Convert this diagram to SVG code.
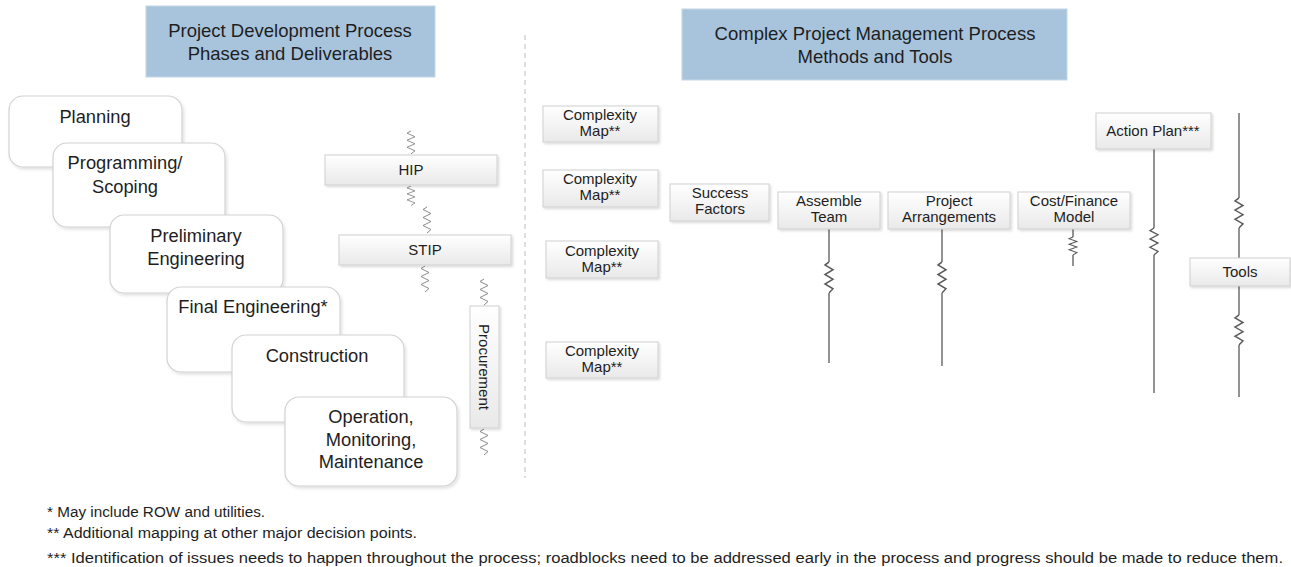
<svg xmlns="http://www.w3.org/2000/svg" xmlns:xlink="http://www.w3.org/1999/xlink" width="1291" height="567" viewBox="0 0 1291 567">
<style>
text{font-family:"Liberation Sans",Arial,sans-serif;fill:#1e1e1e;text-anchor:middle}
.hdr{fill:#a8c4dd;stroke:#c4d6e6;stroke-width:1}
.ht{font-size:18.5px}
.phase{fill:#fff;stroke:#d2d2d2;stroke-width:1.2;filter:url(#sh)}
.pt{font-size:18.3px}
.node{fill:url(#g);stroke:#d0d0d0;stroke-width:1;filter:url(#sh2)}
.nt{font-size:15px}
.spr{fill:none;stroke:#8a8a8a;stroke-width:1}
.ln{fill:none;stroke:#5a5a5a;stroke-width:1.3}
.fn{font-size:15.5px;text-anchor:start}
</style>
<defs>
<linearGradient id="g" x1="0" y1="0" x2="0" y2="1">
<stop offset="0" stop-color="#ffffff"/>
<stop offset="1" stop-color="#e9e9e9"/>
</linearGradient>
<filter id="sh" x="-10%" y="-10%" width="125%" height="125%">
<feDropShadow dx="1.5" dy="2" stdDeviation="1.5" flood-color="#000" flood-opacity="0.12"/>
</filter>
<filter id="sh2" x="-10%" y="-10%" width="125%" height="130%">
<feDropShadow dx="1.5" dy="1.5" stdDeviation="1" flood-color="#000" flood-opacity="0.15"/>
</filter>
<path id="spring" d="M0,0 L-4,2.5 L4,6.5 L-4,10.5 L4,14.5 L-4,18.5 L4,22.5 L0,26"/>
</defs>

<g id="header-left">
<rect class="hdr" x="146" y="6" width="289" height="71"/>
<text class="ht" x="290" y="37">Project Development Process</text>
<text class="ht" x="290" y="60">Phases and Deliverables</text>
</g>
<g id="header-right">
<rect class="hdr" x="682" y="9" width="385" height="71"/>
<text class="ht" x="875" y="40">Complex Project Management Process</text>
<text class="ht" x="875" y="63">Methods and Tools</text>
</g>

<line x1="525" y1="35" x2="525" y2="478" stroke="#bdbdbd" stroke-width="1" stroke-dasharray="5,4"/>

<g id="phase-planning">
<rect class="phase" x="9" y="96" width="173" height="71" rx="14"/>
<text class="pt" x="95" y="123">Planning</text>
</g>
<g id="phase-programming">
<rect class="phase" x="53" y="143" width="172" height="84" rx="14"/>
<text class="pt" x="125" y="169">Programming/</text>
<text class="pt" x="125" y="193">Scoping</text>
</g>
<g id="phase-preliminary">
<rect class="phase" x="110" y="215" width="173" height="78" rx="14"/>
<text class="pt" x="196" y="242">Preliminary</text>
<text class="pt" x="196" y="265">Engineering</text>
</g>
<g id="phase-final">
<rect class="phase" x="167" y="287" width="173" height="85" rx="14"/>
<text class="pt" x="253" y="313">Final Engineering*</text>
</g>
<g id="phase-construction">
<rect class="phase" x="232" y="335" width="172" height="87" rx="14"/>
<text class="pt" x="317" y="362">Construction</text>
</g>
<g id="phase-operation">
<rect class="phase" x="285" y="397" width="172" height="89" rx="14"/>
<text class="pt" x="371" y="423">Operation,</text>
<text class="pt" x="371" y="446">Monitoring,</text>
<text class="pt" x="371" y="468">Maintenance</text>
</g>

<g id="connectors">
<use xlink:href="#spring" class="spr" transform="translate(411,131) scale(1,0.88)"/>
<use xlink:href="#spring" class="spr" transform="translate(411,186) scale(1,0.75)"/>
<use xlink:href="#spring" class="spr" transform="translate(427,207) scale(1,1)"/>
<use xlink:href="#spring" class="spr" transform="translate(425,266) scale(1,1)"/>
<use xlink:href="#spring" class="spr" transform="translate(484,279) scale(1,1)"/>
<use xlink:href="#spring" class="spr" transform="translate(484,429) scale(1,1)"/>

<path class="ln" d="M829,229 V262 M829,293 V363"/>
<use xlink:href="#spring" class="ln" transform="translate(829,262) scale(1,1.19)"/>
<path class="ln" d="M942,229 V262 M942,293 V366"/>
<use xlink:href="#spring" class="ln" transform="translate(942,262) scale(1,1.19)"/>
<path class="ln" d="M1073,229 V237 M1073,255 V266"/>
<use xlink:href="#spring" class="ln" transform="translate(1073,237) scale(1,0.69)"/>
<path class="ln" d="M1154,149 V228 M1154,255 V393"/>
<use xlink:href="#spring" class="ln" transform="translate(1154,228) scale(1,1.04)"/>
<path class="ln" d="M1239,113 V198 M1239,228 V258 M1239,286 V315 M1239,345 V397"/>
<use xlink:href="#spring" class="ln" transform="translate(1239,198) scale(1,1.15)"/>
<use xlink:href="#spring" class="ln" transform="translate(1239,315) scale(1,1.15)"/>
</g>

<g id="hip">
<rect class="node" x="325" y="155" width="172" height="30"/>
<text class="nt" x="411" y="175">HIP</text>
</g>
<g id="stip">
<rect class="node" x="339" y="235" width="172" height="30"/>
<text class="nt" x="425" y="255">STIP</text>
</g>
<g id="procurement">
<rect class="node" x="470" y="306" width="29" height="122"/>
<text class="nt" transform="translate(479,367) rotate(90)">Procurement</text>
</g>

<g id="complexity-map-1">
<rect class="node" x="543" y="106" width="115" height="36"/>
<text class="nt" x="600" y="120">Complexity</text>
<text class="nt" x="600" y="136">Map**</text>
</g>
<g id="complexity-map-2">
<rect class="node" x="543" y="170" width="115" height="37"/>
<text class="nt" x="600" y="184">Complexity</text>
<text class="nt" x="600" y="200">Map**</text>
</g>
<g id="complexity-map-3">
<rect class="node" x="546" y="241" width="112" height="37"/>
<text class="nt" x="602" y="256">Complexity</text>
<text class="nt" x="602" y="272">Map**</text>
</g>
<g id="complexity-map-4">
<rect class="node" x="546" y="342" width="112" height="36"/>
<text class="nt" x="602" y="356">Complexity</text>
<text class="nt" x="602" y="372">Map**</text>
</g>
<g id="success-factors">
<rect class="node" x="670" y="184" width="99" height="37"/>
<text class="nt" x="720" y="198">Success</text>
<text class="nt" x="720" y="214">Factors</text>
</g>
<g id="assemble-team">
<rect class="node" x="778" y="192" width="102" height="37"/>
<text class="nt" x="829" y="206">Assemble</text>
<text class="nt" x="829" y="222">Team</text>
</g>
<g id="project-arrangements">
<rect class="node" x="888" y="192" width="122" height="37"/>
<text class="nt" x="949" y="206">Project</text>
<text class="nt" x="949" y="222">Arrangements</text>
</g>
<g id="cost-finance-model">
<rect class="node" x="1018" y="192" width="112" height="37"/>
<text class="nt" x="1074" y="206">Cost/Finance</text>
<text class="nt" x="1074" y="222">Model</text>
</g>
<g id="action-plan">
<rect class="node" x="1096" y="113" width="115" height="36"/>
<text class="nt" x="1153" y="136">Action Plan***</text>
</g>
<g id="tools">
<rect class="node" x="1190" y="258" width="100" height="28"/>
<text class="nt" x="1240" y="277">Tools</text>
</g>

<g id="footnotes">
<text class="fn" x="47" y="517" textLength="218" lengthAdjust="spacingAndGlyphs">* May include ROW and utilities.</text>
<text class="fn" x="47" y="538" textLength="370" lengthAdjust="spacingAndGlyphs">** Additional mapping at other major decision points.</text>
<text class="fn" x="47" y="563" textLength="1236" lengthAdjust="spacingAndGlyphs">*** Identification of issues needs to happen throughout the process; roadblocks need to be addressed early in the process and progress should be made to reduce them.</text>
</g>
</svg>
